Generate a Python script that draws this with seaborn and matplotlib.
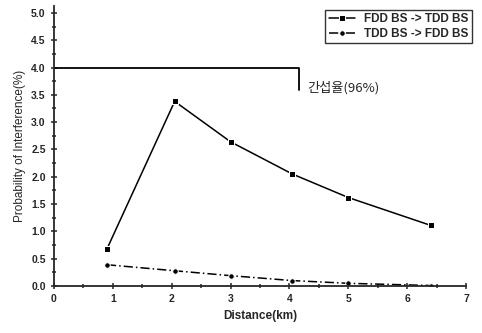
import numpy as np
import pandas as pd
import seaborn as sns
import matplotlib.pyplot as plt
from matplotlib.ticker import MultipleLocator, FormatStrFormatter

# values
distance = [0.9, 2.05, 3.0, 4.05, 5.0, 6.4]
fdd_to_tdd = [0.68, 3.38, 2.64, 2.05, 1.62, 1.11]
tdd_to_fdd = [0.39, 0.28, 0.19, 0.10, 0.05, 0.01]
series_names = ['FDD BS -> TDD BS', 'TDD BS -> FDD BS']

# interference threshold bracket
limit_x = [0, 4.16, 4.16]
limit_y = [4.0, 4.0, 3.58]
limit_label = '간섭율(96%)'

df = pd.DataFrame({
    'distance': distance * 2,
    'prob': fdd_to_tdd + tdd_to_fdd,
    'series': [series_names[0]] * len(distance) + [series_names[1]] * len(distance),
})

sns.set_style('ticks')
plt.rcParams['font.family'] = ['Liberation Sans', 'Noto Sans CJK KR', 'DejaVu Sans']

fig = plt.figure(figsize=(4.82, 3.33), dpi=100)
ax = fig.add_axes([0.112, 0.141, 0.855, 0.84])

sns.lineplot(data=df, x='distance', y='prob', hue='series', style='series',
             palette=['black', 'black'], markers=['s', 'o'],
             dashes=[(None, None), (6, 2, 1, 2)], markersize=4,
             linewidth=1.1, ax=ax)
ax.plot(limit_x, limit_y, color='black', linewidth=1.3)
ax.text(4.3, 3.62, limit_label, fontsize=9.5, family=['Noto Sans CJK KR', 'DejaVu Sans'],
        va='center')

ax.set_xlim(0, 7)
ax.set_ylim(0, 5.12)
ax.xaxis.set_major_locator(MultipleLocator(1))
ax.xaxis.set_minor_locator(MultipleLocator(0.5))
ax.yaxis.set_major_locator(MultipleLocator(0.5))
ax.yaxis.set_minor_locator(MultipleLocator(0.25))
ax.yaxis.set_major_formatter(FormatStrFormatter('%.1f'))
ax.tick_params(which='both', direction='inout', width=1.1)
ax.tick_params(which='major', length=5, labelsize=7.5)
ax.tick_params(which='minor', length=3)
for lab in ax.get_xticklabels() + ax.get_yticklabels():
    lab.set_fontweight('bold')
sns.despine(ax=ax)
for s in ['left', 'bottom']:
    ax.spines[s].set_linewidth(1.3)

ax.set_xlabel('Distance(km)', fontsize=8.5, fontweight='bold')
ax.set_ylabel('Probability of Interference(%)', fontsize=8.5)

handles, labels = ax.get_legend_handles_labels()
ax.get_legend().remove()
leg = fig.legend(handles, labels, loc='upper right',
                 bbox_to_anchor=(478 / 482, 1 - 4 / 333), fontsize=8.5,
                 frameon=True, fancybox=False, edgecolor='black', handlelength=2.2,
                 borderpad=0.3, labelspacing=0.2)
leg.get_frame().set_linewidth(1.0)
for t in leg.get_texts():
    t.set_fontweight('bold')

fig.savefig('out.png', dpi=100)
